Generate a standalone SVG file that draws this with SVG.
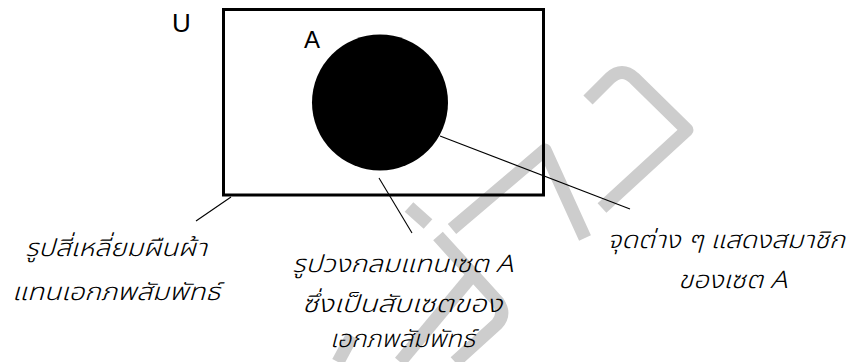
<svg xmlns="http://www.w3.org/2000/svg" width="859" height="362" viewBox="0 0 859 362">
<style>
.wm{fill:none;stroke:#cdcdcd;stroke-width:13;stroke-linejoin:round;stroke-linecap:butt}
.lead{fill:none;stroke:#000;stroke-width:1.1}
.th{font-family:"Noto Sans Thai","Loma","Garuda","Noto Sans",sans-serif;font-style:italic;font-weight:300;font-size:24px;fill:#000}
.lat{font-family:"Liberation Sans",Arial,sans-serif;fill:#000}
</style>
<rect width="859" height="362" fill="#fff"/>
<g id="watermark">
<path class="wm" d="M588,100 L610,78 Q622,67 634,78 L687,130 L602,208"/>
<path class="wm" d="M452,229 L545,150 L585,238"/>
<path class="wm" d="M409,207 L428,224"/>
<path class="wm" d="M438,236 L498,302 Q506,314 497,324 L455,362"/>
<path class="wm" d="M470,278 L400,362"/>
<path class="wm" d="M352,336 L338,362"/>
</g>
<g id="universe">
<rect x="223.5" y="9.5" width="320" height="185.5" fill="none" stroke="#000" stroke-width="3"/>
<text class="lat" x="172" y="32" font-size="26">U</text>
</g>
<g id="setA">
<circle cx="380" cy="102.5" r="68" fill="#000"/>
<text class="lat" x="304" y="48" font-size="24">A</text>
</g>
<g id="connectors">
<line class="lead" x1="231" y1="197" x2="196" y2="221" stroke-width="1.5"/>
<line class="lead" x1="379" y1="178" x2="412" y2="233"/>
<line class="lead" x1="440" y1="136" x2="630" y2="209"/>
</g>
<g id="label-universe">
<text class="th" x="25" y="256" textLength="182" lengthAdjust="spacingAndGlyphs">รูปสี่เหลี่ยมผืนผ้า</text>
<text class="th" x="12" y="300" textLength="208" lengthAdjust="spacingAndGlyphs">แทนเอกภพสัมพัทธ์</text>
</g>
<g id="label-circle">
<text class="th" x="292" y="272" textLength="221" lengthAdjust="spacingAndGlyphs">รูปวงกลมแทนเซต A</text>
<text class="th" x="302" y="312" textLength="200" lengthAdjust="spacingAndGlyphs">ซึ่งเป็นสับเซตของ</text>
<text class="th" x="330" y="347" textLength="145" lengthAdjust="spacingAndGlyphs">เอกภพสัมพัทธ์</text>
</g>
<g id="label-points">
<text class="th" x="607" y="248" textLength="238" lengthAdjust="spacingAndGlyphs">จุดต่าง ๆ แสดงสมาชิก</text>
<text class="th" x="678" y="288" textLength="109" lengthAdjust="spacingAndGlyphs">ของเซต A</text>
</g>
</svg>
